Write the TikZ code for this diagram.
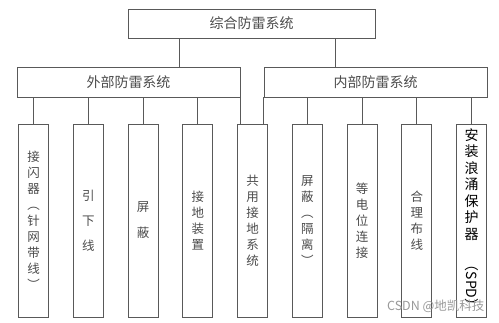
\documentclass[tikz,border=0pt]{standalone}
\usepackage{fontspec}
\usepackage{graphicx}
\setmainfont{Noto Sans CJK SC}
\usetikzlibrary{positioning}
\tikzset{
  topbox/.style={draw=black!65, line width=0.9pt, minimum width=247pt, minimum height=29pt, inner sep=0pt, font=\fontsize{14}{16}\selectfont, text=black!70},
  midbox/.style={draw=black!65, line width=0.9pt, minimum width=223pt, minimum height=30pt, inner sep=0pt, font=\fontsize{14}{16}\selectfont, text=black!70},
  leaf/.style={draw=black!65, line width=0.9pt, minimum width=30pt, minimum height=193pt, inner sep=0pt, align=center, font=\fontsize{12.5}{16}\selectfont, text=black!70},
  leafbig/.style={leaf, font=\fontsize{14}{16.5}\selectfont, text=black},
  link/.style={draw=black!65, line width=0.9pt},
}

\begin{document}
\begin{tikzpicture}[x=1pt, y=1pt]
  \useasboundingbox[fill=white] (0,0) rectangle (499,322);

  % top level
  \node[topbox] (zhfl) at (251.5,298.5) {综合防雷系统};
  \node[midbox] (wbfl) at (128.5,240) {外部防雷系统};
  \node[midbox] (nbfl) at (375.5,240) {内部防雷系统};

  % leaves
  \node[leaf] (jsq) at (33.5,101.5) {接\\闪\\器\\︵\\针\\网\\带\\线\\︶};
  \node[leaf, right=23.85pt of jsq] (yxx) {引\\[9pt]下\\[9pt]线};
  \node[leaf, right=23.85pt of yxx] (pb) {屏\\[10pt]蔽};
  \node[leaf, right=23.85pt of pb] (jdzz) {接\\地\\装\\置};
  \node[leaf, right=23.85pt of jdzz] (gyjd) {共\\用\\接\\地\\系\\统};
  \node[leaf, right=23.85pt of gyjd] (pbgl) {屏\\蔽\\︵\\隔\\离\\︶};
  \node[leaf, right=23.85pt of pbgl] (ddw) {等\\电\\位\\连\\接};
  \node[leaf, right=23.85pt of ddw] (hlbx) {合\\理\\布\\线};
  \node[leafbig, right=23.85pt of hlbx] (spd) {安\\装\\浪\\涌\\保\\护\\器\\[2pt]\rotatebox{-90}{（SPD）}};

  \node[anchor=south east, text=black!40, font=\fontsize{12.5}{12.5}\selectfont] (wm) at (488,6) {CSDN @地凯科技};

  % connectors
  \draw[link] ([xshift=52pt]zhfl.south west) -- ([xshift=52pt]zhfl.south west |- wbfl.north);
  \draw[link] ([xshift=-40pt]zhfl.south east) -- ([xshift=-40pt]zhfl.south east |- nbfl.north);

  \draw[link] (jsq.north) -- (jsq.north |- wbfl.south);
  \draw[link] (yxx.north) -- (yxx.north |- wbfl.south);
  \draw[link] (pb.north) -- (pb.north |- wbfl.south);
  \draw[link] (jdzz.north) -- (jdzz.north |- wbfl.south);
  \draw[link] (wbfl.south east) -- (wbfl.south east |- gyjd.north);
  \draw[link] (nbfl.south west) -- (nbfl.south west |- gyjd.north);
  \draw[link] (pbgl.north) -- (pbgl.north |- nbfl.south);
  \draw[link] (ddw.north) -- (ddw.north |- nbfl.south);
  \draw[link] (hlbx.north) -- (hlbx.north |- nbfl.south);
  \draw[link] (spd.north) -- (spd.north |- nbfl.south);
\end{tikzpicture}
\end{document}
